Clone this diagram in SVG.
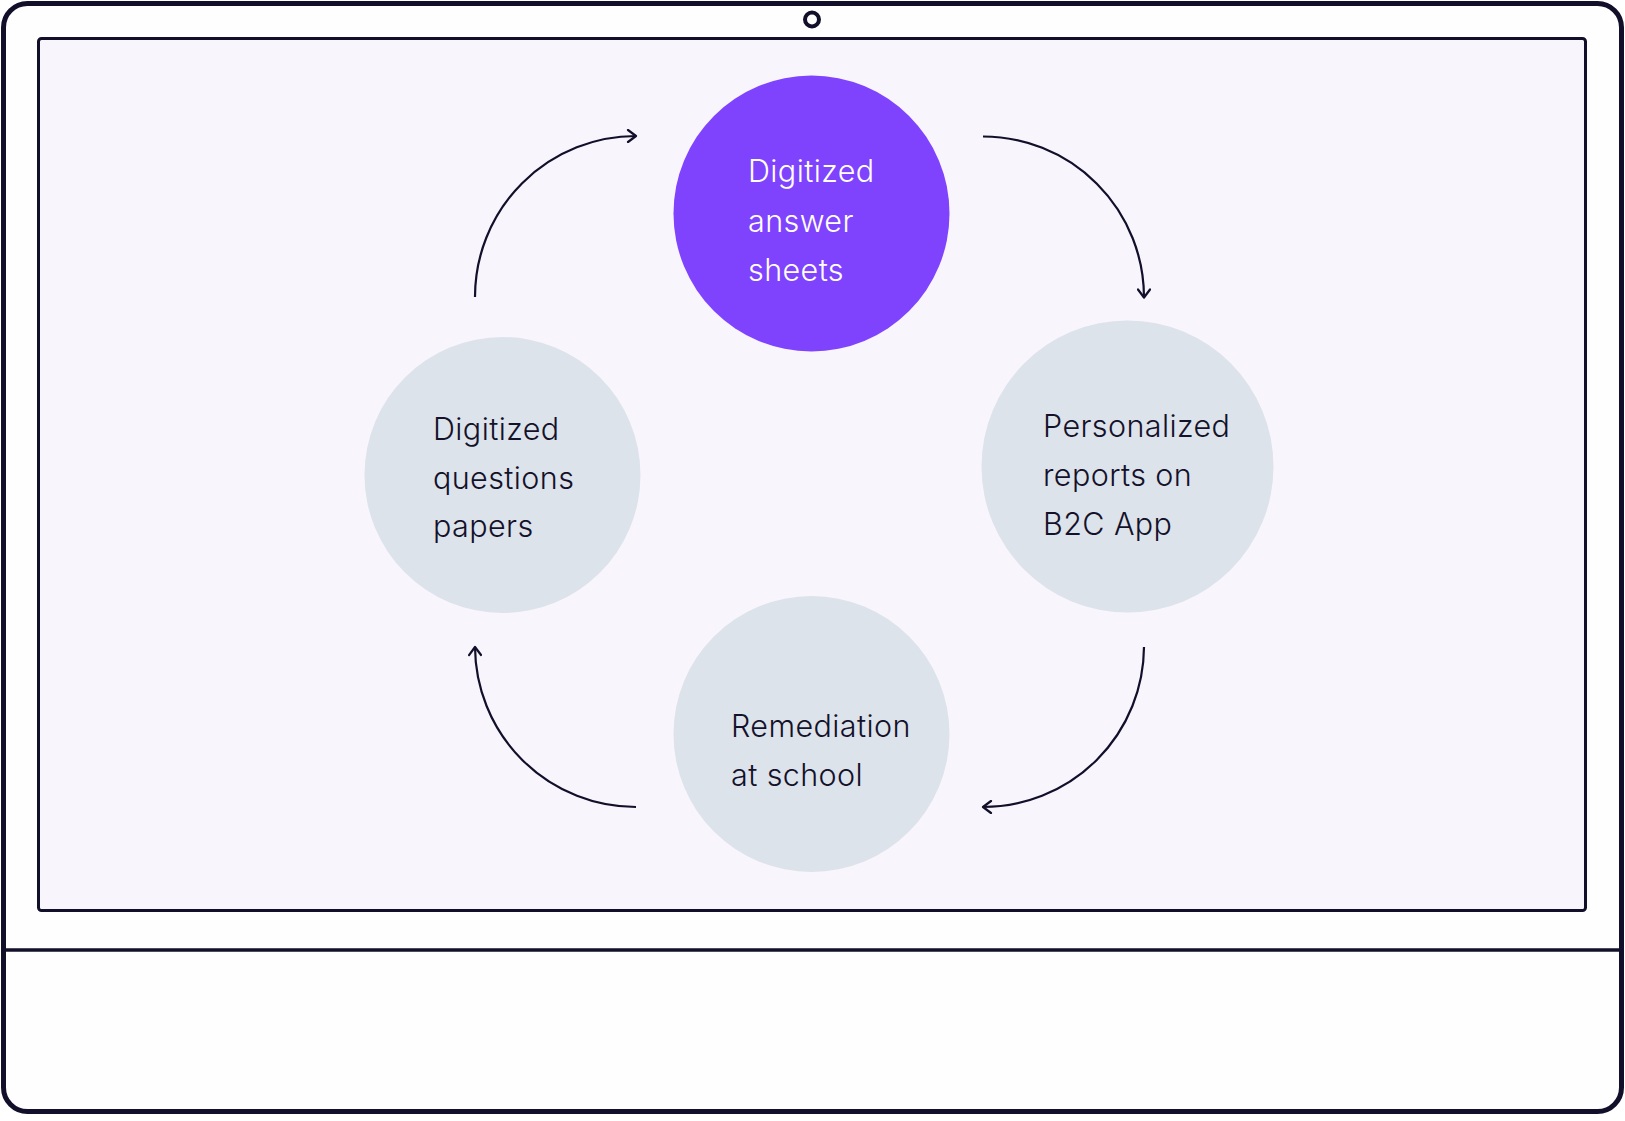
<svg xmlns="http://www.w3.org/2000/svg" width="1625" height="1121" viewBox="0 0 1625 1121">
<defs>
<style>
.frame{fill:#fefefe;stroke:#120f2a;stroke-width:5}
.screen{fill:#f8f5fd;stroke:#120f2a;stroke-width:3}
.line{stroke:#120f2a;stroke-width:3.5;fill:none}
.grey{fill:#dde3ea}
.purple{fill:#7f43fe}
.lbl{font-family:Inter,"Noto Sans",sans-serif;font-weight:300;font-size:30.5px;letter-spacing:0.4px;fill:#14112a}
.lbl.w{fill:#ffffff}
.arc{fill:none;stroke:#120f2a;stroke-width:2.2;marker-end:url(#ah)}
</style>
<marker id="ah" viewBox="0 0 12 14" refX="10" refY="7" markerWidth="12" markerHeight="14" markerUnits="userSpaceOnUse" orient="auto">
<path d="M2,1 L10,7 L2,13" fill="none" stroke="#120f2a" stroke-width="2.2" stroke-linecap="round" stroke-linejoin="round"/>
</marker>
</defs>
<rect class="frame" x="3.5" y="3.5" width="1618" height="1108" rx="24"/>
<rect class="screen" x="38.5" y="38.5" width="1547" height="872" rx="3"/>
<line class="line" x1="3.5" y1="950" x2="1621.5" y2="950"/>
<circle cx="812" cy="19.5" r="7" fill="none" stroke="#120f2a" stroke-width="4"/>
<g id="connectors">
<path class="arc" d="M475,297 A161,161 0 0 1 636,136"/>
<path class="arc" d="M983,136.5 A161,161 0 0 1 1144,297.5"/>
<path class="arc" d="M1144,647 A161,161 0 0 1 983,807"/>
<path class="arc" d="M636,807 A161,161 0 0 1 475,647"/>
</g>
<g id="node-answer-sheets">
<circle class="purple" cx="811.5" cy="213.5" r="138"/>
<text class="lbl w" x="748" y="182">Digitized</text>
<text class="lbl w" x="748" y="231.5">answer</text>
<text class="lbl w" x="748" y="281">sheets</text>
</g>
<g id="node-reports">
<circle class="grey" cx="1127.5" cy="466.5" r="146"/>
<text class="lbl" x="1043" y="437">Personalized</text>
<text class="lbl" x="1043" y="486">reports on</text>
<text class="lbl" x="1043" y="535">B2C App</text>
</g>
<g id="node-remediation">
<circle class="grey" cx="811.5" cy="734" r="138"/>
<text class="lbl" x="731" y="737">Remediation</text>
<text class="lbl" x="731" y="786">at school</text>
</g>
<g id="node-question-papers">
<circle class="grey" cx="502.5" cy="475" r="138"/>
<text class="lbl" x="433" y="440">Digitized</text>
<text class="lbl" x="433" y="489">questions</text>
<text class="lbl" x="433" y="537">papers</text>
</g>
</svg>
